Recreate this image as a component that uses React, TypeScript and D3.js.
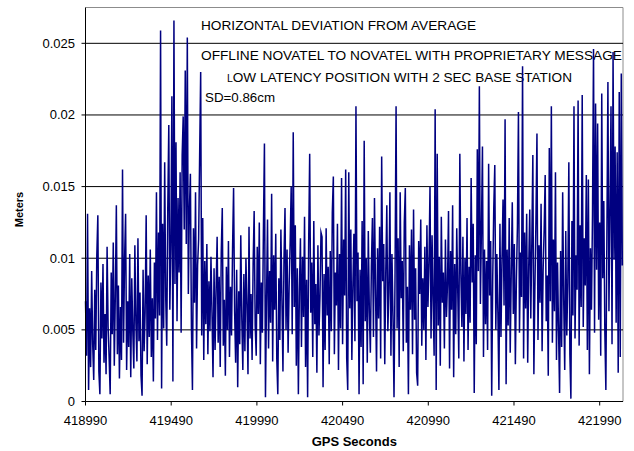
import React from "react";
import * as d3 from "d3";

// Horizontal deviation from the average position, in millimetres, one sample every 6 s
const deviationMm: number[] = [
  7.0, 3.2, 13.1, 0.8, 6.5, 2.4, 9.1, 4.0, 1.5, 7.8,
  3.6, 10.2, 13.0, 2.1, 0.5, 8.3, 4.4, 9.6, 2.7, 6.1,
  1.9, 10.8, 5.2, 3.0, 0.5, 9.0, 4.7, 11.1, 2.5, 7.4,
  13.7, 3.3, 8.1, 1.6, 6.6, 2.9, 16.2, 4.1, 9.9, 13.1,
  2.2, 7.0, 3.8, 10.3, 1.7, 8.6, 4.9, 2.3, 10.9, 5.5,
  2.8, 11.4, 4.2, 7.6, 1.8, 0.4, 9.2, 3.5, 6.3, 13.0,
  2.6, 8.8, 4.5, 10.6, 3.1, 7.2, 1.4, 9.7, 5.8, 14.6,
  4.3, 11.8, 6.0, 25.9, 0.9, 12.4, 5.1, 16.7, 7.3, 3.9,
  13.5, 19.3, 6.4, 10.9, 21.3, 1.4, 26.6, 8.2, 18.1, 5.6,
  14.2, 9.0, 16.0, 4.8, 17.2, 19.9, 12.0, 23.1, 11.0, 25.4,
  7.5, 13.3, 15.9, 5.2, 0.8, 12.1, 6.9, 14.6, 3.7, 9.5,
  11.3, 17.2, 23.0, 4.6, 12.8, 2.9, 9.8, 5.4, 11.0, 3.3,
  8.4, 4.9, 10.1, 6.2, 1.7, 9.3, 3.6, 7.9, 11.5, 4.1,
  8.7, 2.4, 10.4, 13.5, 3.9, 7.1, 1.8, 9.4, 5.0, 11.2,
  3.1, 8.0, 4.6, 10.7, 14.9, 6.3, 2.7, 9.2, 1.0, 7.7,
  4.0, 11.6, 5.7, 2.2, 8.9, 3.5, 10.0, 6.8, 1.9, 12.2,
  4.4, 7.5, 2.9, 9.6, 13.3, 5.3, 3.2, 10.8, 6.1, 12.5,
  2.6, 8.3, 4.8, 11.9, 18.0, 0.3, 7.0, 12.7, 3.7, 9.1,
  5.5, 14.5, 2.8, 10.2, 6.4, 11.7, 3.0, 0.5, 8.6, 4.3,
  12.0, 7.2, 2.1, 9.9, 13.5, 5.0, 10.6, 3.4, 8.0, 11.1,
  15.0, 4.7, 18.8, 6.6, 12.3, 2.5, 9.3, 0.5, 7.8, 11.4,
  3.8, 10.1, 5.9, 12.9, 2.4, 8.5, 0.3, 11.0, 17.3, 6.2,
  9.7, 3.1, 12.6, 5.4, 8.2, 2.0, 10.9, 4.6, 7.3, 11.8,
  11.5, 1.0, 8.9, 3.6, 12.1, 6.0, 9.4, 2.6, 10.5, 4.9,
  13.2, 15.7, 3.3, 9.0, 6.7, 12.4, 2.2, 10.3, 5.1, 15.6,
  4.0, 11.3, 7.4, 16.2, 3.0, 0.8, 16.0, 6.5, 12.0, 2.9,
  8.1, 11.7, 4.2, 20.6, 7.0, 10.4, 0.5, 9.2, 3.8, 12.6,
  1.2, 18.2, 5.6, 10.0, 2.7, 11.9, 6.3, 3.4, 9.5, 12.8,
  4.5, 14.2, 7.9, 2.1, 10.7, 5.8, 12.2, 3.0, 17.1, 8.4,
  11.0, 2.6, 9.1, 13.7, 4.9, 7.7, 14.6, 3.2, 10.3, 6.0,
  0.3, 8.8, 20.6, 5.1, 11.4, 2.4, 14.6, 7.2, 9.8, 3.5,
  12.5, 14.9, 4.1, 8.0, 0.5, 10.9, 6.4, 12.0, 3.3, 13.4,
  5.7, 9.3, 2.0, 1.1, 11.2, 7.5, 12.7, 3.9, 8.6, 5.0,
  10.8, 2.9, 12.3, 6.6, 9.7, 15.0, 4.4, 11.6, 7.1, 3.2,
  20.4, 0.8, 17.3, 5.3, 10.1, 2.5, 12.9, 6.9, 9.0, 3.7,
  11.3, 5.9, 8.2, 13.3, 2.3, 10.5, 6.4, 13.7, 1.7, 9.6,
  4.7, 12.1, 7.6, 3.0, 17.3, 8.9, 5.2, 11.5, 2.8, 10.0,
  6.1, 12.8, 3.6, 9.4, 5.5, 15.6, 8.3, 12.4, 0.6, 10.2,
  4.0, 17.6, 9.1, 22.0, 6.8, 12.0, 17.8, 3.1, 10.6, 5.4,
  9.8, 3.6, 16.6, 7.4, 11.2, 0.4, 8.7, 13.5, 16.5, 5.0,
  10.3, 6.2, 0.8, 12.4, 4.5, 9.9, 14.1, 6.7, 19.7, 1.2,
  10.6, 5.3, 12.8, 3.4, 9.0, 13.9, 6.1, 11.0, 2.6, 8.5,
  12.2, 20.2, 4.8, 10.4, 7.3, 23.4, 3.0, 11.8, 6.5, 13.1,
  2.7, 9.4, 13.4, 5.8, 11.1, 17.2, 1.9, 8.0, 12.6, 18.7,
  4.3, 10.9, 6.9, 13.8, 3.5, 9.2, 12.0, 15.8, 5.6, 8.8,
  1.8, 17.7, 7.0, 20.6, 4.1, 11.3, 6.3, 16.0, 2.9, 9.7,
  5.0, 0.6, 10.5, 3.8, 14.6, 7.1, 2.2, 11.9, 4.6, 8.3,
  16.7, 3.3, 0.2, 12.6, 6.0, 20.6, 4.4, 10.2, 7.8, 21.0,
  3.9, 12.3, 6.6, 21.4, 5.2, 11.4, 8.1, 15.8, 3.6, 15.5,
  1.9, 10.7, 6.4, 13.0, 24.6, 4.8, 20.8, 9.2, 19.4, 5.7,
  12.5, 3.2, 21.5, 8.6, 14.0, 4.9, 0.8, 11.6, 22.3, 6.3,
  13.2, 20.6, 4.0, 24.4, 9.9, 17.8, 5.5, 17.4, 2.0, 21.6,
  3.1, 22.9, 9.5,
];

const startSecond = 418990;
const stepSeconds = 6;
const endSecond = 422126;

const xTicks: number[] = [418990, 419490, 419990, 420490, 420990, 421490, 421990];
const yTicks: number[] = [0, 0.005, 0.01, 0.015, 0.02, 0.025];
const yTickLabels: string[] = ["0", "0.005", "0.01", "0.015", "0.02", "0.025"];
const yMax = 0.0275;

const titleLines: string[] = [
  "HORIZONTAL DEVIATION FROM AVERAGE",
  "OFFLINE NOVATEL TO NOVATEL WITH PROPRIETARY MESSAGE",
];
const subtitleFirst = "L";
const subtitleRest = "OW LATENCY POSITION WITH 2 SEC BASE STATION";
const sdLabel = "SD=0.86cm";
const xTitle = "GPS Seconds";
const yTitle = "Meters";

const W = 634;
const H = 451;
const plot = { left: 85.5, right: 623, top: 7.5, bottom: 401.5 };
const FONT = "'Liberation Sans', Arial, Helvetica, sans-serif";
const NAVY = "#000080";

export default function App() {
  const x = d3.scaleLinear().domain([startSecond, endSecond]).range([plot.left, plot.right]);
  const y = d3.scaleLinear().domain([0, yMax]).range([plot.bottom, plot.top]);

  const points: [number, number][] = deviationMm.map((mm, i) => [startSecond + i * stepSeconds, mm / 1000]);
  const linePath = d3
    .line<[number, number]>()
    .x((d) => x(d[0]))
    .y((d) => y(d[1]))(points) as string;

  return (
    <div style={{ position: "absolute", left: 0, top: 0 }}>
      <svg width={W} height={H} style={{ display: "block", background: "#fff" }} fontFamily={FONT}>
        <rect x={0} y={0} width={W} height={H} fill="#fff" />

        {/* plot frame: grey top and right edges */}
        <line x1={plot.left} x2={plot.right} y1={plot.top} y2={plot.top} stroke="#8c8c8c" strokeWidth={1} />
        <line x1={plot.right} x2={plot.right} y1={plot.top} y2={plot.bottom} stroke="#8c8c8c" strokeWidth={1} />

        {/* horizontal gridlines */}
        {yTicks.slice(1).map((t) => (
          <line key={t} x1={plot.left} x2={plot.right} y1={y(t)} y2={y(t)} stroke="#000" strokeWidth={1} />
        ))}

        {/* annotation text inside the plot */}
        <g fontSize={13} fill="#000">
          <text x={201} y={30} textLength={275} lengthAdjust="spacingAndGlyphs">{titleLines[0]}</text>
          <text x={201} y={60} textLength={421} lengthAdjust="spacingAndGlyphs">{titleLines[1]}</text>
          <text x={227} y={82} textLength={345} lengthAdjust="spacingAndGlyphs">
            <tspan fontSize={10}>{subtitleFirst}</tspan>
            <tspan>{subtitleRest}</tspan>
          </text>
          <text x={205} y={102} textLength={70} lengthAdjust="spacingAndGlyphs">{sdLabel}</text>
        </g>

        {/* deviation series */}
        <path d={linePath} fill="none" stroke={NAVY} strokeWidth={1.5} strokeLinejoin="miter" strokeMiterlimit={10} />

        {/* axes */}
        <line x1={plot.left} x2={plot.left} y1={plot.top} y2={plot.bottom} stroke="#000" strokeWidth={1} />
        <line x1={plot.left} x2={plot.right} y1={plot.bottom} y2={plot.bottom} stroke="#000" strokeWidth={1} />

        {yTicks.map((t, i) => (
          <g key={t}>
            <line x1={plot.left - 4} x2={plot.left} y1={y(t)} y2={y(t)} stroke="#000" strokeWidth={1} />
            <text x={75} y={y(t) + 4.5} textAnchor="end" fontSize={13} fill="#000">
              {yTickLabels[i]}
            </text>
          </g>
        ))}

        {xTicks.map((t) => (
          <g key={t}>
            <line x1={x(t)} x2={x(t)} y1={plot.bottom} y2={plot.bottom + 4} stroke="#000" strokeWidth={1} />
            <text x={x(t)} y={424.5} textAnchor="middle" fontSize={13} fill="#000">
              {t}
            </text>
          </g>
        ))}

        <text x={(plot.left + plot.right) / 2} y={446} textAnchor="middle" fontSize={13} fontWeight="bold" fill="#000">
          {xTitle}
        </text>
        <text
          transform={`translate(23, ${(plot.top + plot.bottom) / 2 + 5}) rotate(-90)`}
          textAnchor="middle"
          fontSize={11}
          fontWeight="bold"
          fill="#000"
        >
          {yTitle}
        </text>
      </svg>
    </div>
  );
}
